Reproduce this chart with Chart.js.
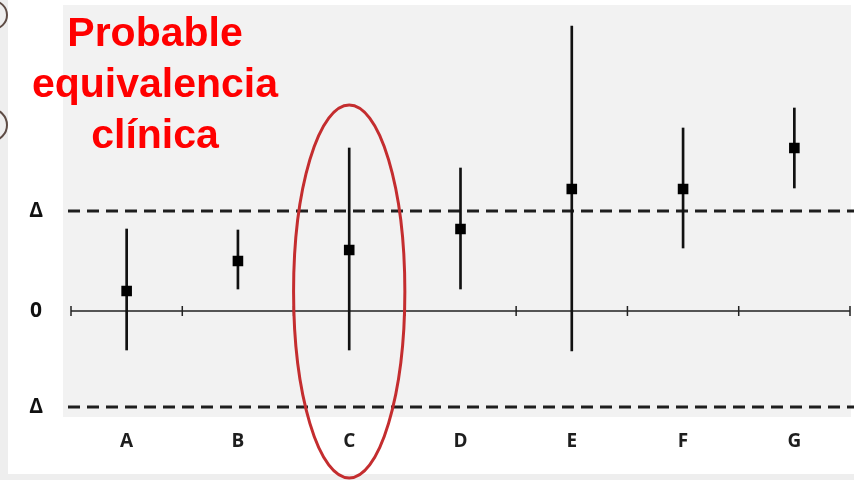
<!DOCTYPE html>
<html>
<head>
<meta charset="utf-8">
<script src="https://cdn.jsdelivr.net/npm/chart.js@4.4.1/dist/chart.umd.min.js"></script>
<style>
  html, body { margin: 0; padding: 0; background: #eeeeee; overflow: hidden; }
  #wrap { position: relative; width: 854px; height: 480px; }
  #chart { position: absolute; left: 0; top: 0; }
  .bullet {
    position: absolute; width: 30px; height: 30px; border-radius: 50%;
    border: 2.5px solid #5e4c45; box-sizing: border-box; left: -22px;
  }
  #note {
    position: absolute; left: 5px; top: 7px; width: 300px;
    font-family: "Liberation Sans", Arial, sans-serif; font-weight: bold;
    font-size: 41px; line-height: 51px; color: #ff0000; text-align: center;
  }
</style>
</head>
<body>
<div id="wrap">
  <canvas id="chart" width="854" height="480"></canvas>
  <div class="bullet" style="top:0px"></div>
  <div class="bullet" style="top:108px;height:34px;width:34px;left:-26px"></div>
  <div id="note">Probable<br>equivalencia<br>clínica</div>
</div>
<script>
// studies and their estimate with confidence interval (units of Δ)
const categories = ['A', 'B', 'C', 'D', 'E', 'F', 'G'];
const estimates  = [0.20, 0.50, 0.61, 0.82, 1.22, 1.22, 1.63];
const lowerCI    = [-0.39, 0.22, -0.39, 0.22, -0.40, 0.63, 1.23];
const upperCI    = [0.82, 0.81, 1.63, 1.43, 2.85, 1.83, 2.03];

// equivalence margins and their axis labels
const marginValues = [1.0, -0.96];
const yTickValues  = [1.0, 0, -0.96];
const yTickLabels  = ['Δ', '0', 'Δ'];

// highlighted study
const highlight = 'C';
const highlightSpan = [-1.67, 2.06];

const intervals = categories.map((c, i) => [lowerCI[i], upperCI[i]]);

const backdrop = {
  id: 'backdrop',
  beforeDraw(chart) {
    const ctx = chart.ctx;
    const a = chart.chartArea;
    ctx.save();
    ctx.fillStyle = '#eeeeee';
    ctx.fillRect(0, 0, chart.width, chart.height);
    ctx.fillStyle = '#ffffff';
    ctx.fillRect(8, 0, chart.width - 8, 474);
    ctx.fillStyle = '#f2f2f2';
    ctx.fillRect(a.left - 8, a.top, a.right - a.left + 9, a.bottom - a.top);
    ctx.restore();
  },
  beforeDatasetsDraw(chart) {
    const ctx = chart.ctx;
    const x = chart.scales.x, y = chart.scales.y;
    const a = chart.chartArea;
    ctx.save();
    // equivalence margins
    ctx.strokeStyle = '#1e1e1e';
    ctx.lineWidth = 3;
    ctx.setLineDash([12, 7]);
    marginValues.forEach(v => {
      const py = y.getPixelForValue(v);
      ctx.beginPath();
      ctx.moveTo(a.left - 3, py);
      ctx.lineTo(chart.width, py);
      ctx.stroke();
    });
    // zero line with category separators
    ctx.setLineDash([]);
    ctx.strokeStyle = '#222222';
    ctx.lineWidth = 1.5;
    const y0 = y.getPixelForValue(0);
    ctx.beginPath();
    ctx.moveTo(a.left, y0);
    ctx.lineTo(a.right, y0);
    const step = x.getPixelForTick(1) - x.getPixelForTick(0);
    for (let i = 0; i <= categories.length; i++) {
      const px = x.getPixelForTick(0) - step / 2 + i * step;
      ctx.moveTo(px, y0 - 5);
      ctx.lineTo(px, y0 + 5);
    }
    ctx.stroke();
    ctx.restore();
  },
  afterDraw(chart) {
    const ctx = chart.ctx;
    const x = chart.scales.x, y = chart.scales.y;
    const i = categories.indexOf(highlight);
    const step = x.getPixelForTick(1) - x.getPixelForTick(0);
    const cx = x.getPixelForTick(i);
    const top = y.getPixelForValue(highlightSpan[1]);
    const bottom = y.getPixelForValue(highlightSpan[0]);
    ctx.save();
    ctx.strokeStyle = '#c42d2f';
    ctx.lineWidth = 3;
    ctx.beginPath();
    ctx.ellipse(cx, (top + bottom) / 2, step / 2, (bottom - top) / 2, 0, 0, Math.PI * 2);
    ctx.stroke();
    ctx.restore();
  }
};

new Chart(document.getElementById('chart'), {
  type: 'bar',
  data: {
    labels: categories,
    datasets: [
      {
        type: 'bar',
        data: intervals,
        backgroundColor: '#111111',
        barThickness: 2,
        grouped: false,
        order: 2
      },
      {
        type: 'line',
        data: estimates,
        showLine: false,
        pointStyle: 'rect',
        pointRadius: 7.5,
        pointHoverRadius: 7.5,
        pointBorderWidth: 0,
        pointBackgroundColor: '#000000',
        order: 1
      }
    ]
  },
  options: {
    responsive: false,
    animation: false,
    layout: { autoPadding: false, padding: { top: 5, right: 4, left: 0, bottom: 0 } },
    plugins: { legend: { display: false }, title: { display: false }, tooltip: { enabled: false } },
    scales: {
      x: {
        offset: true,
        grid: { display: false, drawTicks: false },
        border: { display: false },
        ticks: {
          padding: 13,
          color: '#1e1e1e',
          font: { family: 'Open Sans', size: 19, weight: 'bold' }
        },
        afterFit(scale) { scale.height = 63; }
      },
      y: {
        min: -1.06,
        max: 3.06,
        grid: { display: false, drawTicks: false },
        border: { display: false },
        afterBuildTicks(scale) { scale.ticks = yTickValues.map(v => ({ value: v })); },
        ticks: {
          padding: 28,
          crossAlign: 'center',
          color: '#111111',
          font: { family: 'Open Sans', size: 21, weight: 'bold' },
          callback: (v, idx) => yTickLabels[idx]
        },
        afterFit(scale) {
          scale.width = 71;
          scale.paddingTop = 0;
          scale.paddingBottom = 0;
        }
      }
    }
  },
  plugins: [backdrop]
});
</script>
</body>
</html>
